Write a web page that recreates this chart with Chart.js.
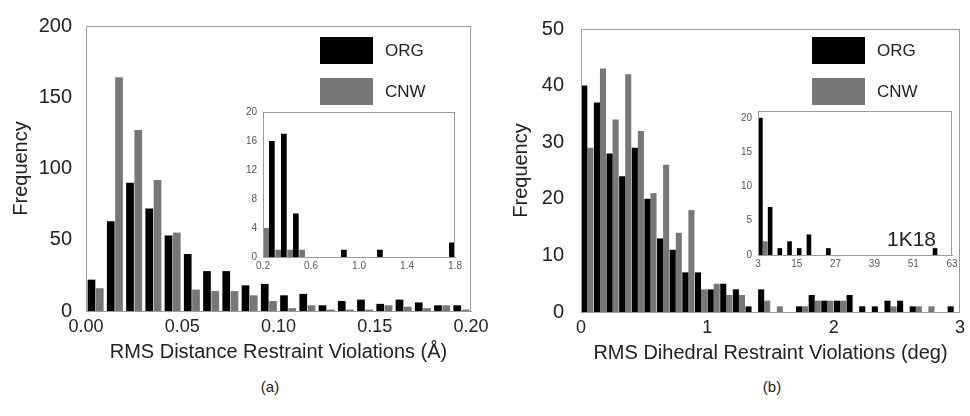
<!DOCTYPE html>
<html>
<head>
<meta charset="utf-8">
<script src="https://cdn.jsdelivr.net/npm/chart.js@4.4.0/dist/chart.umd.min.js"></script>
<style>
body { margin: 0; background: #fff; }
#wrap { position: relative; width: 970px; height: 416px; overflow: hidden; font-family: "Liberation Sans", Arial, sans-serif; }
canvas { position: absolute; }
.lbl { position: absolute; color: #222; white-space: nowrap; }
</style>
</head>
<body>
<div id="wrap">
  <canvas id="distMain" width="495" height="368" style="left:0px;top:0px"></canvas>
  <canvas id="distInset" width="225" height="175" style="left:240px;top:100px"></canvas>
  <canvas id="diheMain" width="470" height="369" style="left:500px;top:0px"></canvas>
  <canvas id="diheInset" width="230" height="175" style="left:735px;top:98px"></canvas>
  <div class="lbl" style="left:887px;top:228px;font-size:21px;line-height:21px">1K18</div>
  <div class="lbl" style="left:270px;top:386px;font-size:15px;transform:translate(-50%,-50%)">(a)</div>
  <div class="lbl" style="left:772px;top:386px;font-size:15px;transform:translate(-50%,-50%)">(b)</div>
</div>
<script>
// (a) RMS distance restraint violations, bins of 0.01 A
const distBins = [0.005, 0.015, 0.025, 0.035, 0.045, 0.055, 0.065, 0.075, 0.085, 0.095,
                  0.105, 0.115, 0.125, 0.135, 0.145, 0.155, 0.165, 0.175, 0.185, 0.195];
const distOrg = [22, 63, 90, 72, 53, 40, 28, 28, 18, 19, 11, 12, 4, 7, 8, 5, 8, 6, 4, 4];
const distCnw = [16, 164, 127, 92, 55, 15, 14, 14, 11, 7, 2, 4, 1, 1, 1, 4, 3, 2, 4, 1];

// inset (a), bins of 0.1 A
const distTailBins = [0.25, 0.35, 0.45, 0.55, 0.65, 0.75, 0.85, 0.95,
                      1.05, 1.15, 1.25, 1.35, 1.45, 1.55, 1.65, 1.75];
const distTailOrg = [16, 17, 6, 0, 0, 0, 1, 0, 0, 1, 0, 0, 0, 0, 0, 2];
const distTailCnw = [4, 1, 1, 1, 0, 0, 0, 0, 0, 0, 0, 0, 0, 0, 0, 0];

// (b) RMS dihedral restraint violations, bins of 0.1 deg
const diheBins = [0.05, 0.15, 0.25, 0.35, 0.45, 0.55, 0.65, 0.75, 0.85, 0.95,
                  1.05, 1.15, 1.25, 1.35, 1.45, 1.55, 1.65, 1.75, 1.85, 1.95,
                  2.05, 2.15, 2.25, 2.35, 2.45, 2.55, 2.65, 2.75, 2.85, 2.95];
const diheOrg = [40, 37, 28, 24, 29, 20, 13, 11, 7, 7, 4, 5, 4, 1, 4,
                 0, 0, 1, 3, 2, 2, 3, 1, 1, 2, 2, 1, 0, 0, 1];
const diheCnw = [29, 43, 34, 42, 32, 21, 26, 14, 18, 4, 5, 3, 3, 0, 2,
                 1, 0, 1, 2, 2, 2, 0, 0, 0, 1, 0, 1, 1, 0, 0];

// inset (b) 1K18, bins of 3 deg
const diheTailBins = [4.5, 7.5, 10.5, 13.5, 16.5, 19.5, 22.5, 25.5, 28.5, 31.5,
                      34.5, 37.5, 40.5, 43.5, 46.5, 49.5, 52.5, 55.5, 58.5, 61.5];
const diheTailOrg = [20, 7, 1, 2, 1, 3, 0, 1, 0, 0, 0, 0, 0, 0, 0, 0, 0, 0, 1, 0];
const diheTailCnw = [2, 0, 0, 0, 0, 0, 0, 0, 0, 0, 0, 0, 0, 0, 0, 0, 0, 0, 0, 0];

const ORG_COLOR = '#000000';
const CNW_COLOR = '#777777';
const TEXT = '#222';

Chart.defaults.font.family = '"Liberation Sans", Arial, sans-serif';
Chart.defaults.animation = false;

const pts = (xs, ys) => xs.map((x, i) => ({x: x, y: ys[i]}));

// light box round the plot area
const framePlugin = {
    id: 'frame',
    afterDraw(chart) {
        const ctx = chart.ctx, a = chart.chartArea;
        ctx.save();
        ctx.strokeStyle = '#9a9a9a';
        ctx.lineWidth = 1;
        ctx.strokeRect(Math.round(a.left) + 0.5, Math.round(a.top) + 0.5,
                       Math.round(a.width) - 1, Math.round(a.height));
        ctx.restore();
    }
};

// big stacked legend boxes in the top right corner
const boxLegend = {
    id: 'boxLegend',
    afterDraw(chart, args, opts) {
        if (!opts || !opts.dx) return;
        const ctx = chart.ctx, a = chart.chartArea;
        ctx.save();
        chart.data.datasets.forEach((ds, i) => {
            const x = a.right - opts.dx, y = a.top + opts.dy + i * 41;
            ctx.fillStyle = ds.backgroundColor;
            ctx.fillRect(x, y, 53, 27);
            ctx.fillStyle = TEXT;
            ctx.font = '17px "Liberation Sans", Arial, sans-serif';
            ctx.textBaseline = 'middle';
            ctx.fillText(ds.label, x + 65, y + 14);
        });
        ctx.restore();
    }
};

function mainChart(id, o) {
    return new Chart(document.getElementById(id), {
        type: 'bar',
        data: {
            datasets: [
                {label: 'ORG', data: pts(o.bins, o.org), backgroundColor: ORG_COLOR, borderWidth: 0},
                {label: 'CNW', data: pts(o.bins, o.cnw), backgroundColor: CNW_COLOR, borderWidth: 0}
            ]
        },
        options: {
            responsive: false,
            devicePixelRatio: 1,
            categoryPercentage: o.cat,
            barPercentage: o.bar,
            layout: {padding: {left: 0, right: o.padRight, top: o.padTop, bottom: 0}},
            plugins: {
                legend: {display: false},
                tooltip: {enabled: false},
                boxLegend: {dx: o.legendDx, dy: o.legendDy}
            },
            scales: {
                x: {
                    type: 'linear', min: o.xMin, max: o.xMax, offset: false,
                    grid: {display: false, drawTicks: false},
                    border: {color: '#9a9a9a'},
                    ticks: {stepSize: o.xStep, callback: o.xFmt, font: {size: 18}, color: TEXT, padding: 5, maxRotation: 0},
                    title: {display: true, text: o.xTitle, font: {size: 20}, color: TEXT, padding: {top: 0, bottom: 4}},
                    afterFit: s => { s.height = 57; }
                },
                y: {
                    min: 0, max: o.yMax,
                    grid: {display: false, drawTicks: false},
                    border: {color: '#9a9a9a'},
                    ticks: {stepSize: o.yStep, font: {size: 20}, color: TEXT, padding: o.yPad},
                    title: {display: true, text: 'Frequency', font: {size: 20}, color: TEXT, padding: {top: 9, bottom: 0}},
                    afterFit: s => { s.width = o.yWidth; }
                }
            }
        },
        plugins: [framePlugin, boxLegend]
    });
}

function insetChart(id, o) {
    return new Chart(document.getElementById(id), {
        type: 'bar',
        data: {datasets: o.datasets},
        options: {
            responsive: false,
            devicePixelRatio: 1,
            categoryPercentage: o.cat,
            barPercentage: o.bar,
            layout: {padding: {left: 0, right: o.padRight, top: o.padTop, bottom: 0}},
            plugins: {legend: {display: false}, tooltip: {enabled: false}},
            scales: {
                x: {
                    type: 'linear', min: o.xMin, max: o.xMax, offset: false,
                    grid: {display: false, drawTicks: false},
                    border: {color: '#9a9a9a'},
                    ticks: {stepSize: o.xStep, callback: o.xFmt, font: {size: 10}, color: '#555', padding: 3, maxRotation: 0},
                    afterFit: s => { s.height = 18; }
                },
                y: {
                    min: 0, max: o.yMax,
                    grid: {display: false, drawTicks: false},
                    border: {color: '#9a9a9a'},
                    ticks: {stepSize: o.yStep, includeBounds: false, font: {size: 10}, color: '#555', padding: 6},
                    afterFit: s => { s.width = 23; }
                }
            }
        },
        plugins: [framePlugin]
    });
}

mainChart('distMain', {
    bins: distBins, org: distOrg, cnw: distCnw,
    cat: 0.86, bar: 0.93,
    padRight: 24, padTop: 19,
    xMin: 0, xMax: 0.2, xStep: 0.05, xFmt: v => v.toFixed(2),
    xTitle: 'RMS Distance Restraint Violations (Å)',
    yMax: 200, yStep: 50, yPad: 14, yWidth: 86,
    legendDx: 151, legendDy: 11
});

insetChart('distInset', {
    datasets: [
        {label: 'CNW', data: pts(distTailBins, distTailCnw), backgroundColor: CNW_COLOR, borderWidth: 0},
        {label: 'ORG', data: pts(distTailBins, distTailOrg), backgroundColor: ORG_COLOR, borderWidth: 0}
    ],
    cat: 0.95, bar: 1.0,
    padRight: 9, padTop: 12,
    xMin: 0.2, xMax: 1.8, xStep: 0.4, xFmt: v => v.toFixed(1),
    yMax: 20, yStep: 4
});

mainChart('diheMain', {
    bins: diheBins, org: diheOrg, cnw: diheCnw,
    cat: 0.96, bar: 1.0,
    padRight: 5, padTop: 21,
    xMin: 0, xMax: 3, xStep: 1, xFmt: v => String(v),
    xTitle: 'RMS Dihedral Restraint Violations (deg)',
    yMax: 50, yStep: 10, yPad: 17, yWidth: 81,
    legendDx: 148, legendDy: 8
});

insetChart('diheInset', {
    datasets: [
        {label: 'ORG', data: pts(diheTailBins, diheTailOrg), backgroundColor: ORG_COLOR, borderWidth: 0},
        {label: 'CNW', data: pts(diheTailBins, diheTailCnw), backgroundColor: CNW_COLOR, borderWidth: 0}
    ],
    cat: 1.0, bar: 0.95,
    padRight: 13, padTop: 13,
    xMin: 3, xMax: 63, xStep: 12, xFmt: v => String(v),
    yMax: 21, yStep: 5
});
</script>
</body>
</html>
